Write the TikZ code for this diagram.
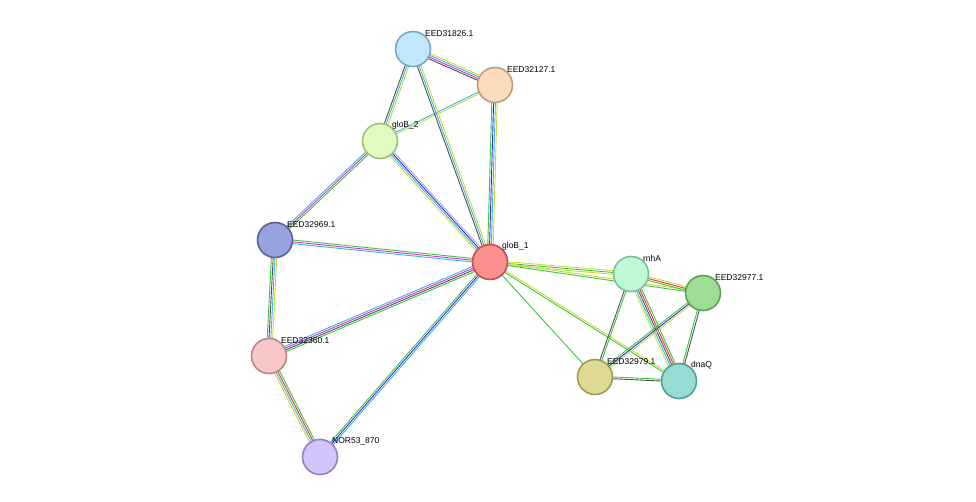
\documentclass[tikz,border=0pt]{standalone}
\usepackage{fontspec}
\setmainfont{Liberation Sans}
\usetikzlibrary{calc}
\definecolor{yg}{HTML}{C6DB3A}
\definecolor{gr}{HTML}{3CC43C}
\definecolor{cy}{HTML}{3BB4DE}
\definecolor{mg}{HTML}{D62ED6}
\definecolor{bl}{HTML}{2A2AF0}
\definecolor{lv}{HTML}{A6A6F5}
\definecolor{bk}{HTML}{505050}
\definecolor{rd}{HTML}{F03030}
% parallel coloured lines between two nodes
\newcommand{\evlink}[3]{%
  \foreach \c [count=\i] in {#3} {\xdef\evn{\i}}%
  \foreach \c [count=\i] in {#3} {%
    \pgfmathsetmacro{\o}{(\i-(\evn+1)/2)*1.8}%
    \draw [link,\c] ($(#1)!\o pt!90:(#2)$) -- ($(#2)!\o pt!-90:(#1)$);
  }}
\begin{document}
\begin{tikzpicture}
      [ x = 1pt, y = -1pt
      , prot/.style =
        { circle, draw, line width=1.6pt, minimum size=35pt, inner sep=0pt }
      , lbl/.style =
        { font=\fontsize{8.5}{10}\selectfont, anchor=south west, inner sep=1pt }
      , link/.style =
        { line width=0.9pt }
      ]
      \useasboundingbox (0,0) rectangle (976,502);
      \coordinate (a) at (413,49);
      \coordinate (b) at (495,85);
      \coordinate (c) at (380,141);
      \coordinate (d) at (275,240);
      \coordinate (e) at (490,262);
      \coordinate (f) at (631,274);
      \coordinate (g) at (703,293);
      \coordinate (h) at (269,356);
      \coordinate (i) at (595,377);
      \coordinate (j) at (679,381);
      \coordinate (k) at (320,457);
      % edges
      \evlink{a}{b}{bk,mg,cy,yg}
      \evlink{a}{c}{bk,cy,yg}
      \evlink{b}{c}{cy,yg}
      \evlink{a}{e}{bk,cy,yg}
      \evlink{b}{e}{gr,bl,cy,yg}
      \evlink{c}{e}{yg,cy,bl,lv}
      \evlink{c}{d}{cy,mg,gr}
      \evlink{d}{e}{cy,mg,gr}
      \evlink{d}{h}{gr,bk,cy,yg}
      \evlink{h}{e}{gr,bk,mg,cy}
      \evlink{h}{k}{yg,cy,rd,gr}
      \evlink{k}{e}{cy,bl,gr}
      \evlink{e}{f}{yg,gr,yg}
      \evlink{e}{g}{gr,yg}
      \evlink{e}{i}{gr}
      \evlink{e}{j}{gr,yg}
      \evlink{f}{g}{gr,rd,yg}
      \evlink{f}{i}{bk,gr}
      \evlink{f}{j}{yg,cy,bk,rd,gr}
      \evlink{g}{i}{gr,bl,yg}
      \evlink{g}{j}{gr,bk}
      \evlink{i}{j}{bk,gr}
      % proteins
      \node [prot, fill={rgb,255:red,192;green,231;blue,250}, draw={rgb,255:red,122;green,166;blue,196}] (EED31826) at (a) {};
      \node [prot, fill={rgb,255:red,253;green,220;blue,190}, draw={rgb,255:red,190;green,156;blue,126}] (EED32127) at (b) {};
      \node [prot, fill={rgb,255:red,224;green,252;blue,190}, draw={rgb,255:red,160;green,190;blue,125}] (gloB2) at (c) {};
      \node [prot, fill={rgb,255:red,152;green,162;blue,222}, draw={rgb,255:red,88;green,98;blue,158}] (EED32969) at (d) {};
      \node [prot, fill={rgb,255:red,252;green,142;blue,142}, draw={rgb,255:red,190;green,80;blue,80}] (gloB1) at (e) {};
      \node [prot, fill={rgb,255:red,190;green,250;blue,215}, draw={rgb,255:red,125;green,190;blue,155}] (rnhA) at (f) {};
      \node [prot, fill={rgb,255:red,158;green,222;blue,148}, draw={rgb,255:red,95;green,160;blue,85}] (EED32977) at (g) {};
      \node [prot, fill={rgb,255:red,247;green,198;blue,198}, draw={rgb,255:red,184;green,134;blue,134}] (EED32360) at (h) {};
      \node [prot, fill={rgb,255:red,222;green,218;blue,148}, draw={rgb,255:red,158;green,154;blue,85}] (EED32979) at (i) {};
      \node [prot, fill={rgb,255:red,150;green,220;blue,212}, draw={rgb,255:red,85;green,158;blue,150}] (dnaQ) at (j) {};
      \node [prot, fill={rgb,255:red,212;green,196;blue,252}, draw={rgb,255:red,148;green,130;blue,192}] (NOR53) at (k) {};
      % labels
      \node [lbl] at ([xshift=-2pt,yshift=-2pt]EED31826.north east) {EED31826.1};
      \node [lbl] at ([xshift=-2pt,yshift=-2pt]EED32127.north east) {EED32127.1};
      \node [lbl] at ([xshift=-2pt,yshift=-2pt]gloB2.north east) {gloB\_2};
      \node [lbl] at ([xshift=-2pt,yshift=-2pt]EED32969.north east) {EED32969.1};
      \node [lbl] at ([xshift=-2pt,yshift=-2pt]gloB1.north east) {gloB\_1};
      \node [lbl] at ([xshift=-2pt,yshift=-2pt]rnhA.north east) {rnhA};
      \node [lbl] at ([xshift=-2pt,yshift=-2pt]EED32977.north east) {EED32977.1};
      \node [lbl] at ([xshift=-2pt,yshift=-2pt]EED32360.north east) {EED32360.1};
      \node [lbl] at ([xshift=-2pt,yshift=-2pt]EED32979.north east) {EED32979.1};
      \node [lbl] at ([xshift=-2pt,yshift=-2pt]dnaQ.north east) {dnaQ};
      \node [lbl] at ([xshift=-2pt,yshift=-2pt]NOR53.north east) {NOR53\_870};
\end{tikzpicture}
\end{document}
